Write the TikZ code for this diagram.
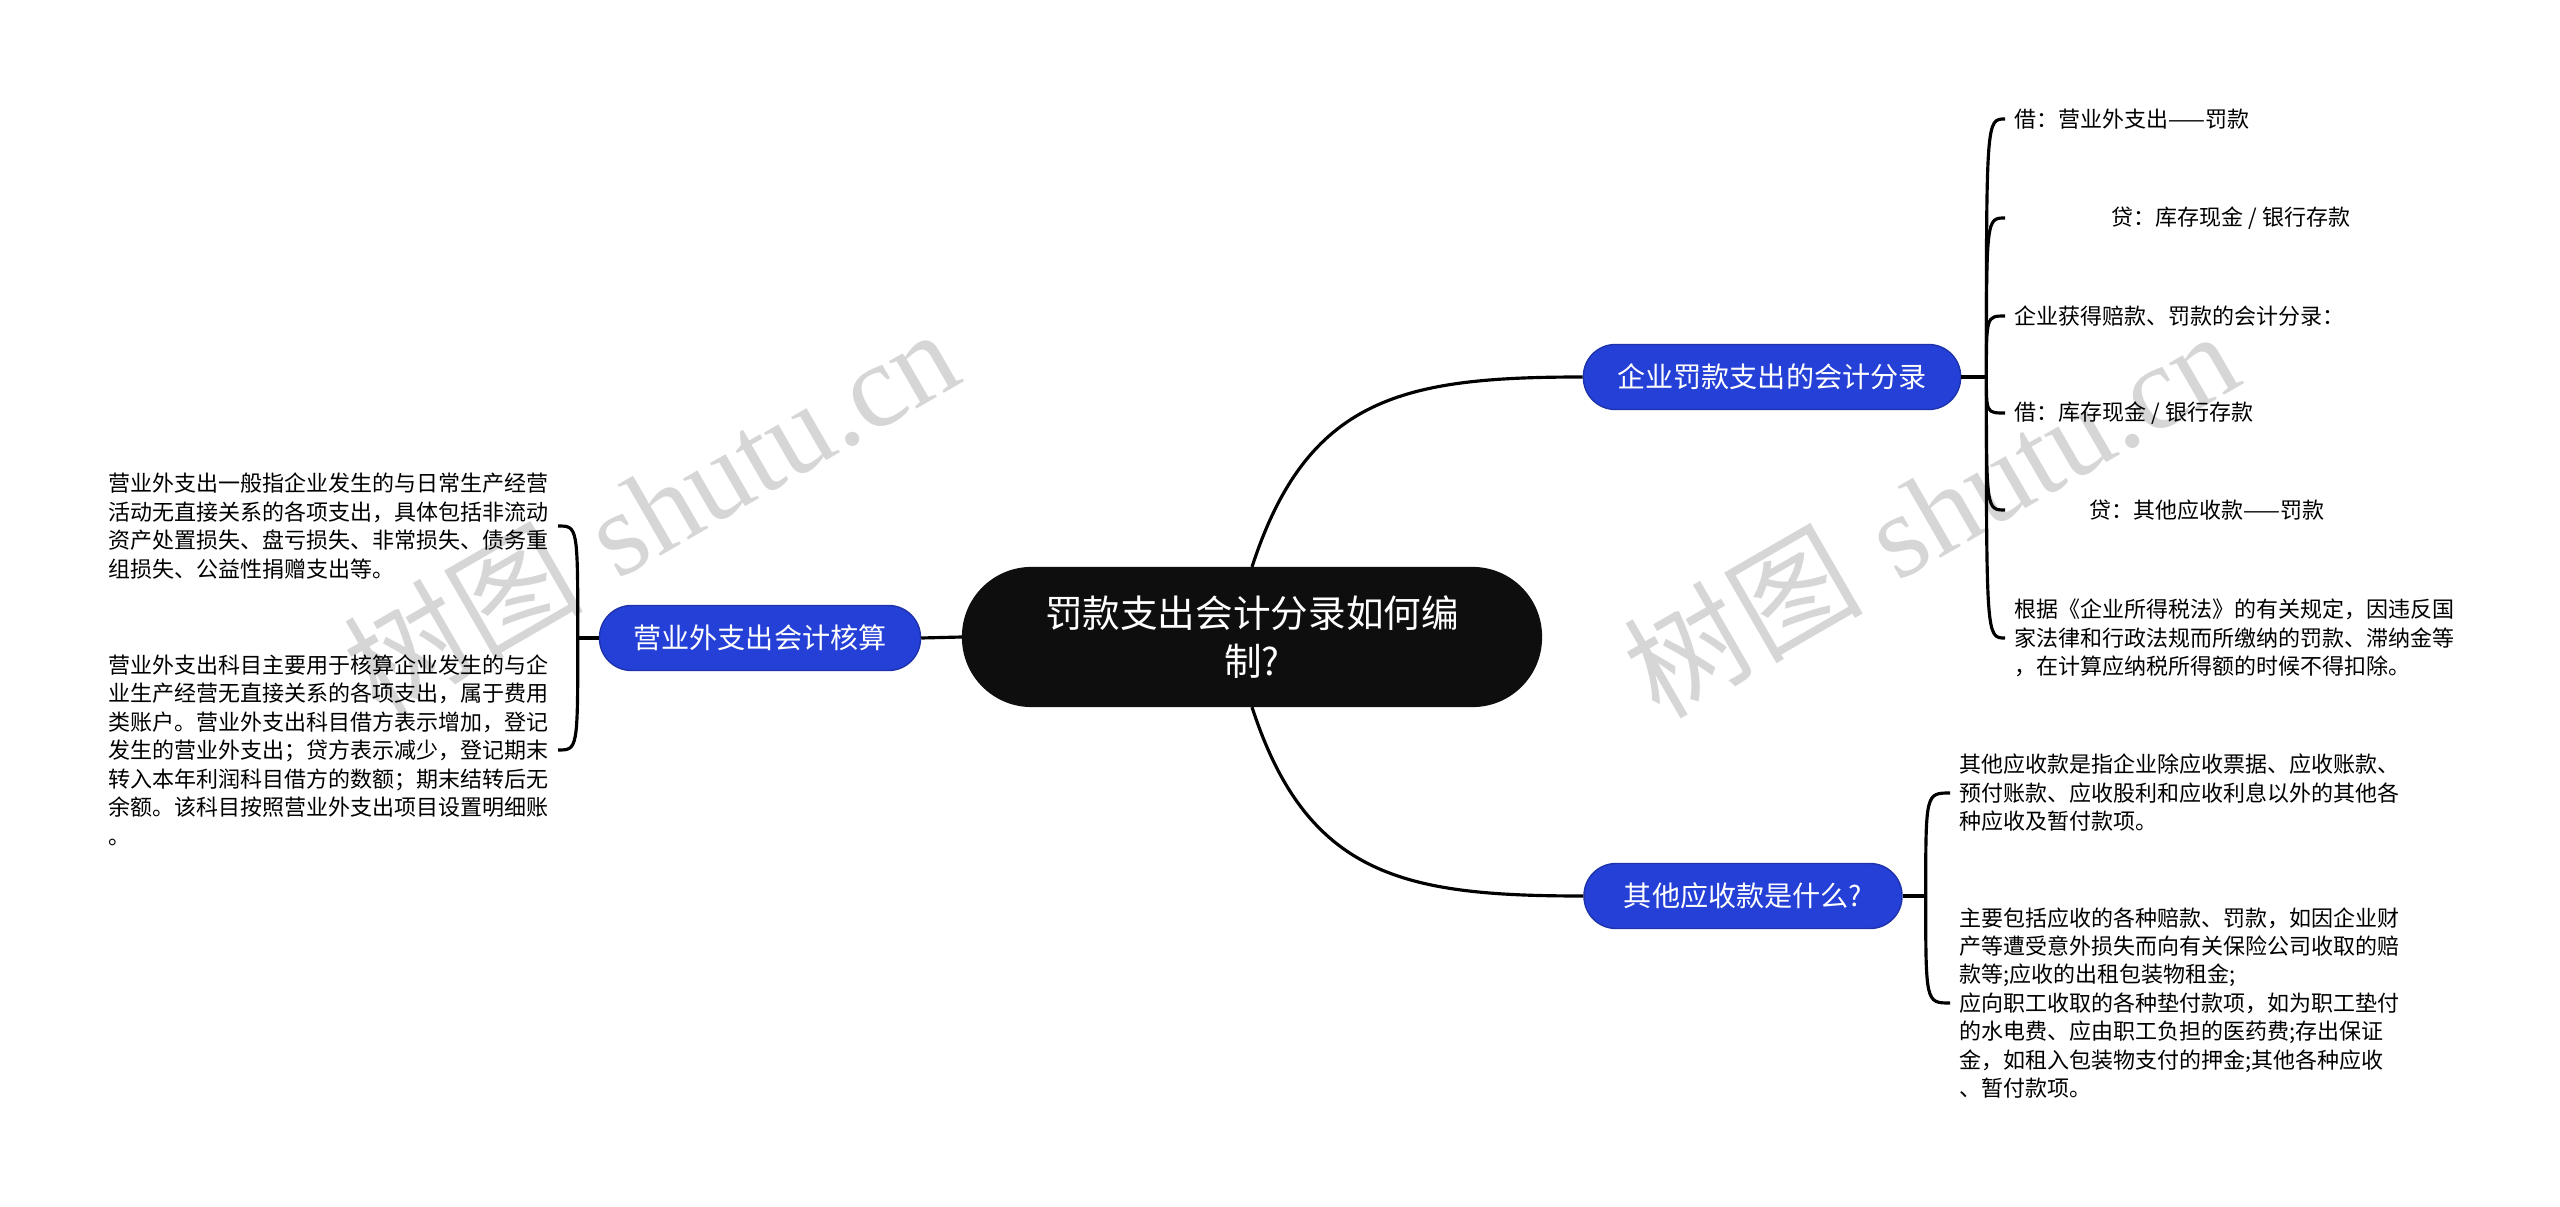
\documentclass[tikz,border=0pt]{standalone}
\usepackage{fontspec}
\newfontfamily\cjk{Noto Sans CJK SC}
\newfontfamily\wmserif{Liberation Serif}
\usepackage{tikz}
\usepackage{xcolor}
\usetikzlibrary{positioning}
\definecolor{topicblue}{RGB}{37,64,214}
\definecolor{rootblack}{RGB}{14,14,14}
\definecolor{wmgray}{RGB}{214,214,214}

\begin{document}
\begin{tikzpicture}[
line width=0.9pt,
root/.style={fill=rootblack,draw=rootblack,text=white,rounded corners=0.68cm,
  minimum width=5.77cm,minimum height=1.37cm,align=center,
  font=\cjk\fontsize{10.7pt}{13.7pt}\selectfont},
topic/.style={fill=topicblue,draw=topicblue!80!black,line width=0.4pt,text=white,
  rounded corners=0.32cm,minimum height=0.65cm,minimum width=3.18cm,inner xsep=0.34cm,
  font=\cjk\fontsize{8pt}{9.6pt}\selectfont},
leaf/.style={inner xsep=0.08cm,inner ysep=0pt,align=left,
  font=\cjk\fontsize{6.26pt}{8.1pt}\selectfont},
wmark/.style={text=wmgray,rotate=30,font=\fontsize{34pt}{40pt}\selectfont}
]
\useasboundingbox (0,0) rectangle (25.6,-12.07);
\node[wmark] (wm1) at (6.50,-5.10) {{\cjk 树图} {\wmserif shutu.cn}};
\node[wmark] (wm2) at (19.30,-5.12) {{\cjk 树图} {\wmserif shutu.cn}};

\node[root] (root) at (12.52,-6.37) {罚款支出会计分录如何编\\制?};
\node[topic] (fine) at (17.72,-3.77) {企业罚款支出的会计分录};
\node[topic] (other) at (17.43,-8.96) {其他应收款是什么?};
\node[topic] (nonop) at (7.60,-6.38) {营业外支出会计核算};

\coordinate[right=0.25cm of fine] (j1);
\coordinate[right=0.23cm of other] (j2);
\coordinate[left=0.21cm of nonop] (j3);

\node[leaf,anchor=west] (f1) at (20.05,-1.19) {借：营业外支出——罚款};
\node[leaf,anchor=west] (f2) at (20.05,-2.18) {\hspace*{0.97cm}贷：库存现金 / 银行存款};
\node[leaf,anchor=west] (f3) at (20.05,-3.16) {企业获得赔款、罚款的会计分录：};
\node[leaf,anchor=west] (f4) at (20.05,-4.13) {借：库存现金 / 银行存款};
\node[leaf,anchor=west] (f5) at (20.05,-5.10) {\hspace*{0.75cm}贷：其他应收款——罚款};
\node[leaf,anchor=west] (f6) at (20.05,-6.38) {根据《企业所得税法》的有关规定，因违反国\\家法律和行政法规而所缴纳的罚款、滞纳金等\\，在计算应纳税所得额的时候不得扣除。};

\node[leaf,anchor=west] (o1) at (19.50,-7.93) {其他应收款是指企业除应收票据、应收账款、\\预付账款、应收股利和应收利息以外的其他各\\种应收及暂付款项。};
\node[leaf,anchor=west] (o2) at (19.50,-10.03) {主要包括应收的各种赔款、罚款，如因企业财\\产等遭受意外损失而向有关保险公司收取的赔\\款等;应收的出租包装物租金;\\应向职工收取的各种垫付款项，如为职工垫付\\的水电费、应由职工负担的医药费;存出保证\\金，如租入包装物支付的押金;其他各种应收\\、暂付款项。};

\node[leaf,anchor=east] (n1) at (5.58,-5.26) {营业外支出一般指企业发生的与日常生产经营\\活动无直接关系的各项支出，具体包括非流动\\资产处置损失、盘亏损失、非常损失、债务重\\组损失、公益性捐赠支出等。};
\node[leaf,anchor=east] (n2) at (5.58,-7.50) {营业外支出科目主要用于核算企业发生的与企\\业生产经营无直接关系的各项支出，属于费用\\类账户。营业外支出科目借方表示增加，登记\\发生的营业外支出；贷方表示减少，登记期末\\转入本年利润科目借方的数额；期末结转后无\\余额。该科目按照营业外支出项目设置明细账\\。};

\draw (root.west) -- (nonop.east);
\draw (root.north) to[out=72,in=180,looseness=1.2] (fine.west);
\draw (root.south) to[out=-72,in=180,looseness=1.2] (other.west);
\draw (fine.east) -- (j1);
\draw (other.east) -- (j2);
\draw (nonop.west) -- (j3);
\foreach \c in {f1,f2,f3,f4,f5,f6}
  \draw (j1) .. controls (j1 |- \c.west) .. (\c.west);
\foreach \c in {o1,o2}
  \draw (j2) .. controls (j2 |- \c.west) .. (\c.west);
\foreach \c in {n1,n2}
  \draw (j3) .. controls (j3 |- \c.east) .. (\c.east);
\end{tikzpicture}
\end{document}
